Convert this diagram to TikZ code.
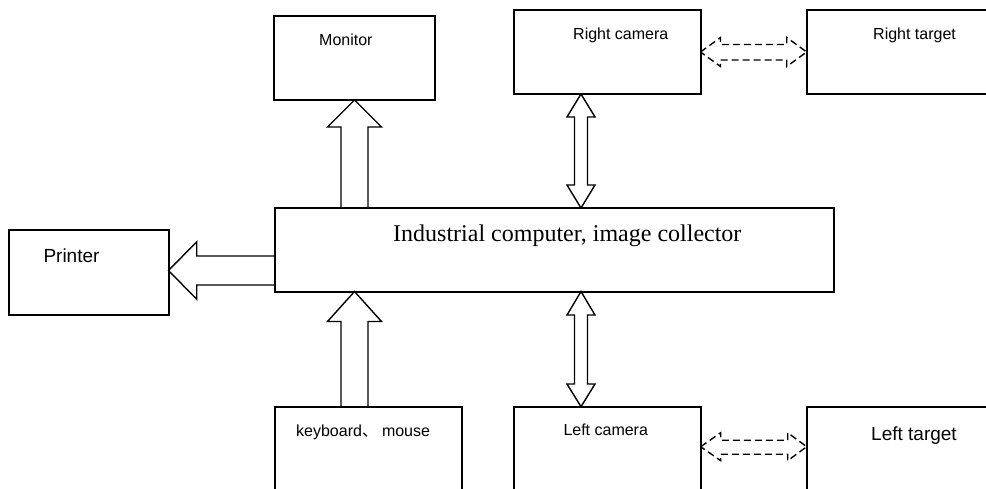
\documentclass[tikz,border=0pt]{standalone}
\usepackage{fontspec}
\setmainfont{Liberation Serif}
\newfontfamily\lsans{Liberation Sans}
\newfontfamily\cjkf{Noto Sans CJK SC}
\usetikzlibrary{calc}
\tikzset{
  box/.style={draw, line width=2pt, inner sep=0pt, outer sep=0pt},
  blockarrow/.style={draw, line width=1.4pt, line join=miter},
  dasharrow/.style={draw, line width=1.4pt, dash pattern=on 7pt off 4pt},
  lbl/.style={inner sep=0pt, anchor=base west, font=\lsans\fontsize{16}{19}\selectfont},
  biglbl/.style={inner sep=0pt, anchor=base west, font=\lsans\fontsize{19}{23}\selectfont},
  serlbl/.style={inner sep=0pt, anchor=base west, font=\rmfamily\fontsize{24}{29}\selectfont},
}
\begin{document}
\begin{tikzpicture}[x=1pt,y=-1pt]
\useasboundingbox (0,0) rectangle (986,488);
\clip (0,0) rectangle (986,488);
% boxes
\node[box, minimum width=161pt, minimum height=84.5pt] (mon) at (354.5,57.75) {};
\node[box, minimum width=186.5pt, minimum height=84pt] (rc) at (607.25,52) {};
\node[box, minimum width=193.3pt, minimum height=84pt] (rt) at (903.35,52) {};
\node[box, minimum width=159.5pt, minimum height=85pt] (pr) at (88.75,272.5) {};
\node[box, minimum width=559pt, minimum height=83.5pt] (ind) at (554.5,249.75) {};
\node[box, minimum width=186.7pt, minimum height=93.3pt] (kb) at (368.35,453.35) {};
\node[box, minimum width=186.7pt, minimum height=93.3pt] (lc) at (607.35,453.35) {};
\node[box, minimum width=193.3pt, minimum height=93.3pt] (lt) at (903.35,453.35) {};
% labels
\node[lbl] (monT) at ($(mon.north west)+(45,30.2)$) {Monitor};
\node[lbl] (rcT) at ($(rc.north west)+(59,29.3)$) {Right camera};
\node[lbl] (rtT) at ($(rt.north west)+(66.3,29.3)$) {Right target};
\node[biglbl] (prT) at ($(pr.north west)+(34.3,32.7)$) {Printer};
\node[serlbl] (indT) at ($(ind.north west)+(118,33.7)$) {Industrial computer, image collector};
\node[lbl] (kbT) at ($(kb.north west)+(21,30)$) {keyboard{\cjkf 、}\hspace{4pt}mouse};
\node[lbl] (lcT) at ($(lc.north west)+(49.3,28.3)$) {Left camera};
\node[biglbl] (ltT) at ($(lt.north west)+(64.3,34.2)$) {Left target};
% monitor arrow (up)
\coordinate (mt) at (mon.south);
\coordinate (mb) at (mon.south |- ind.north);
\draw[blockarrow] ($(mb)+(-13.5,0)$) -- ($(mt)+(-13.5,27)$) -- ($(mt)+(-27,27)$) -- (mt)
  -- ($(mt)+(27,27)$) -- ($(mt)+(13.5,27)$) -- ($(mb)+(13.5,0)$);
% keyboard arrow (up)
\coordinate (kt) at (mon.south |- ind.south);
\coordinate (kbb) at (mon.south |- kb.north);
\draw[blockarrow] ($(kbb)+(-13.5,0)$) -- ($(kt)+(-13.5,30)$) -- ($(kt)+(-27,30)$) -- (kt)
  -- ($(kt)+(27,30)$) -- ($(kt)+(13.5,30)$) -- ($(kbb)+(13.5,0)$);
% printer arrow (left)
\coordinate (pt) at ($(pr.east)+(0,-2)$);
\coordinate (pb) at (pt -| ind.west);
\draw[blockarrow] ($(pb)+(0,-14.5)$) -- ($(pt)+(28.2,-14.5)$) -- ($(pt)+(28.2,-28.7)$) -- (pt)
  -- ($(pt)+(28.2,28.7)$) -- ($(pt)+(28.2,14.5)$) -- ($(pb)+(0,14.5)$);
% right camera double arrow
\coordinate (rct) at ($(rc.south west)+(67,0)$);
\coordinate (rcb) at (rct |- ind.north);
\draw[blockarrow] (rct) -- ($(rct)+(14,23)$) -- ($(rct)+(6.5,23)$) -- ($(rcb)+(6.5,-23)$)
  -- ($(rcb)+(14,-23)$) -- (rcb) -- ($(rcb)+(-14,-23)$) -- ($(rcb)+(-6.5,-23)$)
  -- ($(rct)+(-6.5,23)$) -- ($(rct)+(-14,23)$) -- cycle;
% left camera double arrow
\coordinate (lct) at (rct |- ind.south);
\coordinate (lcb) at (rct |- lc.north);
\draw[blockarrow] (lct) -- ($(lct)+(14,23.5)$) -- ($(lct)+(6.5,23.5)$) -- ($(lcb)+(6.5,-22.7)$)
  -- ($(lcb)+(14,-22.7)$) -- (lcb) -- ($(lcb)+(-14,-22.7)$) -- ($(lcb)+(-6.5,-22.7)$)
  -- ($(lct)+(-6.5,23.5)$) -- ($(lct)+(-14,23.5)$) -- cycle;
% dashed double arrows
\coordinate (dl1) at (rc.east);
\coordinate (dr1) at (rt.west);
\draw[dasharrow] (dl1) -- ($(dl1)+(20,-14.5)$) -- ($(dl1)+(20,-7.5)$) -- ($(dr1)+(-20,-7.5)$)
  -- ($(dr1)+(-20,-14.5)$) -- (dr1) -- ($(dr1)+(-20,14.5)$) -- ($(dr1)+(-20,8)$)
  -- ($(dl1)+(20,8)$) -- ($(dl1)+(20,14.5)$) -- cycle;
\coordinate (dl2) at ($(lc.north east)+(0,40)$);
\coordinate (dr2) at ($(lt.north west)+(0,40)$);
\draw[dasharrow] (dl2) -- ($(dl2)+(20,-14)$) -- ($(dl2)+(20,-6.5)$) -- ($(dr2)+(-19,-6.5)$)
  -- ($(dr2)+(-19,-14)$) -- (dr2) -- ($(dr2)+(-19,14)$) -- ($(dr2)+(-19,7.5)$)
  -- ($(dl2)+(20,7.5)$) -- ($(dl2)+(20,14)$) -- cycle;
\end{tikzpicture}
\end{document}
